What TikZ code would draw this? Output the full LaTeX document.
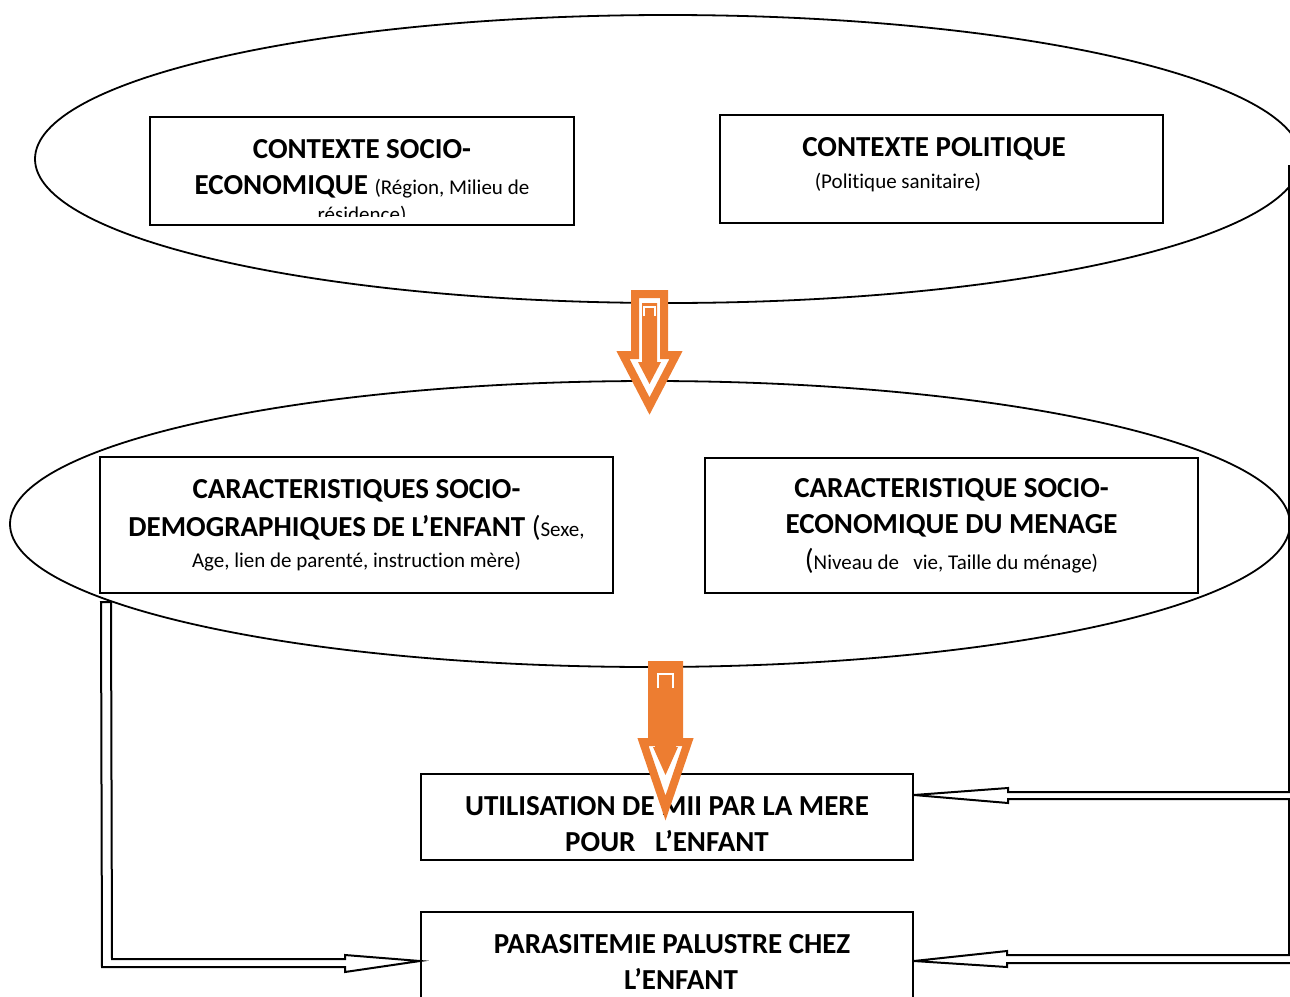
\documentclass[tikz,border=0pt]{standalone}
\usepackage{fontspec}
\setmainfont[Ligatures=NoCommon]{Carlito}
\usetikzlibrary{shapes.geometric}
\definecolor{accent}{RGB}{237,125,49}
\newcommand{\boxfont}{\fontsize{29}{36}\selectfont\bfseries}
\newcommand{\notefont}{\fontsize{21}{26}\selectfont\mdseries}

\begin{document}
\begin{tikzpicture}[x=1pt, y=-1pt, line width=2pt,
  oval/.style={draw, ellipse, inner sep=0pt, line width=1.8pt},
  frame/.style={draw, fill=white, inner sep=0pt, align=center, font=\boxfont},
  frametext/.style={inner sep=0pt, align=center, font=\boxfont, anchor=north},
  blockarrow/.style={draw=accent, line width=8pt, fill=white, line join=miter}]

\useasboundingbox (0,0) rectangle (1290,996);
\clip (0,0) rectangle (1290,996);

\node[oval, minimum width=1266pt, minimum height=288pt] (ctx) at (668,159) {};
\node[oval, minimum width=1280pt, minimum height=286pt] (carac) at (650,524) {};

\node[frame, minimum width=424pt, minimum height=108pt] (socio) at (362,171) {};
\begin{scope}
\clip (socio.north west) rectangle ([yshift=10pt]socio.south east);
\node[frametext] (sociotxt) at (362,138) {CONTEXTE SOCIO-\\ECONOMIQUE {\notefont (Région, Milieu de}\\[-9pt]{\notefont résidence)}};
\end{scope}

\node[frame, minimum width=443pt, minimum height=108pt] (polit) at (941.5,169) {};
\node[frametext] (polittxt) at (934,136) {CONTEXTE POLITIQUE\\[-4pt]\hspace*{-72pt}{\notefont (Politique sanitaire)}};

\node[frame, minimum width=513pt, minimum height=136pt] (enfant) at (356.5,525) {CARACTERISTIQUES SOCIO-\\[2pt]DEMOGRAPHIQUES DE L’ENFANT {\mdseries(}{\notefont Sexe,}\\[-5pt]{\notefont Age, lien de parenté, instruction mère)}};
\node[frame, minimum width=493pt, minimum height=135pt] (menage) at (951.5,525.5) {CARACTERISTIQUE SOCIO-\\ECONOMIQUE DU MENAGE\\{\mdseries(}{\notefont Niveau de\ \ \ vie, Taille du ménage)}};
\node[frame, minimum width=492pt, minimum height=86pt] (util) at (667,817) {};
\node[frametext] (utiltxt) at (667,795) {UTILISATION DE MII PAR LA MERE\\POUR\ \ \ L’ENFANT};
\node[frame, minimum width=492pt, minimum height=98pt] (paras) at (667,961) {};
\node[frametext] (parastxt) at (672,933) {PARASITEMIE PALUSTRE CHEZ\\\hspace*{18pt}L’ENFANT};

\coordinate (rtop) at (1289,165);
\coordinate (tip1) at ([yshift=22pt]util.east);
\draw (rtop) -- (1289,792) -- (1008,792) -- (1008,788) -- (tip1) -- (1008,803) -- (1008,799) -- (1289,799)
  -- (1289,955) -- (1007,955) -- (1007,951) -- (paras.east) -- (1007,967) -- (1007,963) -- (1300,963);

\coordinate (lft) at ([xshift=2pt,yshift=-8pt]enfant.south west);
\draw (lft) -- ++(10,0) -- (112,959) -- (345,959) -- (345,955) -- (paras.west) -- (345,972) -- (345,967) -- (102,967) -- cycle;

\draw[blockarrow] (635,294) -- (664,294) -- (664,355) -- (676,355) -- (649.5,406) -- (623,355) -- (635,355) -- cycle;
\fill[accent] (642,303) -- (657,303) -- (657,362) -- (661,362) -- (649.5,384) -- (638,362) -- (642,362) -- cycle;
\draw[white, line width=1.2pt] (644,316) -- (644,307) -- (655,307) -- (655,316);

\draw[blockarrow] (652,665) -- (679,665) -- (679,742) -- (688,742) -- (665.5,808) -- (643,742) -- (652,742) -- cycle;
\fill[accent] (655,669) -- (676,669) -- (676,747) -- (678,747) -- (665.5,775) -- (653,747) -- (655,747) -- cycle;
\draw[white, line width=2pt] (658,688) -- (658,674) -- (673,674) -- (673,688);
\end{tikzpicture}
\end{document}
